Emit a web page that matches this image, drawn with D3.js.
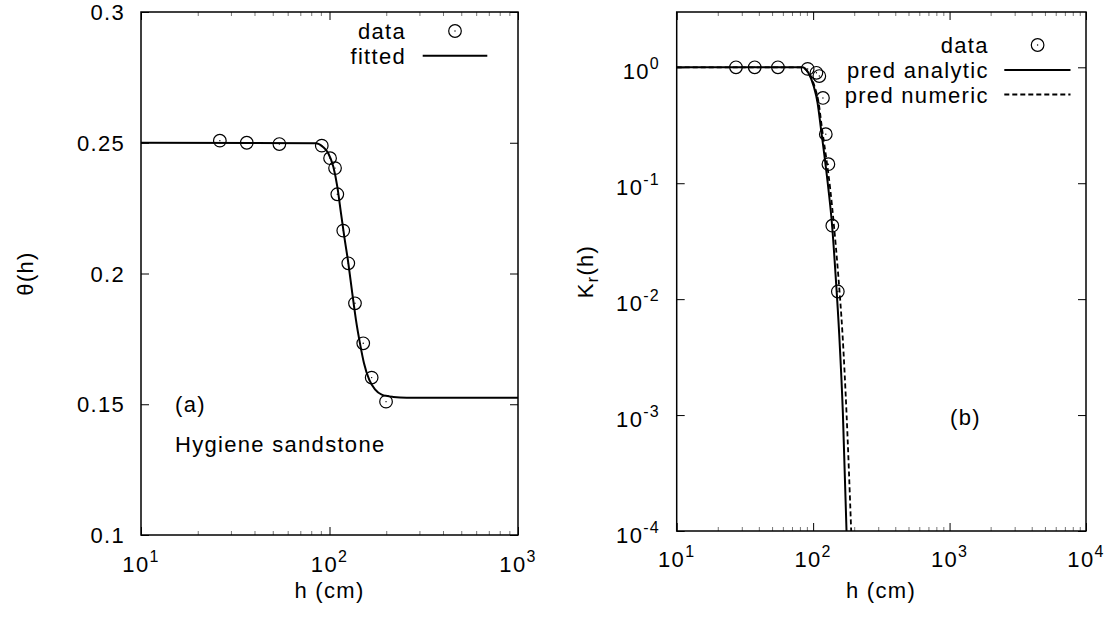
<!DOCTYPE html>
<html><head><meta charset="utf-8">
<script src="https://cdn.jsdelivr.net/npm/d3@7"></script>
<style>body{margin:0;background:#fff}</style>
</head><body><svg id="c" width="1109" height="617"></svg>
<script>
// ---------- Panel (a): water content ----------
const thetaH   = [26.2, 36.4, 54.2, 91.0, 100.7, 107, 110, 118.3, 125.8, 136.5, 151, 167.4, 199.5];
const thetaObs = [0.2508, 0.2500, 0.2495, 0.2489, 0.2441, 0.2403, 0.2303, 0.2164, 0.2039, 0.1886, 0.1733, 0.1602, 0.1510];
const fitH     = [10, 84.8, 92.0, 98.5, 104.8, 110.0, 115.1, 119.8, 125.9, 132.1, 138.2, 145.1, 152.4, 162.6, 174.3, 189.2, 218.0, 256.8, 1000];
const fitTheta = [0.25, 0.2498, 0.2485, 0.2460, 0.2408, 0.2332, 0.2230, 0.2141, 0.2039, 0.1924, 0.1822, 0.1733, 0.1657, 0.1593, 0.1557, 0.1537, 0.1528, 0.1525, 0.1525];
const aXTicks  = [10, 100, 1000];
const aXExp    = ["1", "2", "3"];
const aYTicks  = [0.1, 0.15, 0.2, 0.25, 0.3];
const aYLabels = ["0.1", "0.15", "0.2", "0.25", "0.3"];

// ---------- Panel (b): relative conductivity ----------
const krH   = [27.2, 37.3, 55.2, 91.2, 105.7, 111, 118, 123.8, 129.4, 138.2, 151.7];
const krObs = [1.0, 1.0, 1.0, 0.969, 0.897, 0.841, 0.544, 0.265, 0.146, 0.0430, 0.01164];
const anaH  = [10, 82.9, 92.2, 101.1, 107.6, 114.4, 121.5, 129.4, 137.5, 146.1, 155.3, 165.2, 175.7];
const anaK  = [1, 1, 0.897, 0.682, 0.499, 0.289, 0.167, 0.0895, 0.0443, 0.0161, 0.00498, 0.00104, 1e-4];
const numH  = [10, 82.9, 92.2, 102.5, 109.6, 116.5, 124.6, 133.4, 141.8, 152.8, 164.2, 175.7, 190.1];
const numK  = [1, 1, 0.897, 0.682, 0.499, 0.289, 0.167, 0.0895, 0.0443, 0.0161, 0.00498, 0.00104, 1e-4];
const bXTicks = [10, 100, 1000, 10000];
const bXExp   = ["1", "2", "3", "4"];
const bYTicks = [1e-4, 1e-3, 1e-2, 1e-1, 1];
const bYExp   = ["-4", "-3", "-2", "-1", "0"];

const FONT = "'Liberation Sans', Arial, Helvetica, sans-serif";
const FS = 22, LS = 1.3, SUP = 16;
const svg = d3.select("#c").style("font-family", FONT);
svg.append("rect").attr("width", 1109).attr("height", 617).attr("fill", "#fff");

function minorLog(lo, hi) {
  const out = [];
  for (let d = lo; d < hi; d *= 10) for (let k = 2; k <= 9; k++) out.push(d * k);
  return out;
}

function frameAxes(g, x, y, xMajor, xMinor, yMajor) {
  const [x0, x1] = x.range(), [y0, y1] = y.range();
  const mk = (axis, tx, ty, col) => {
    const a = g.append("g").attr("transform", `translate(${tx},${ty})`).call(axis);
    a.select(".domain").remove();
    a.selectAll("line").attr("stroke", col).attr("stroke-width", 1);
  };
  mk(d3.axisBottom(x).tickValues(xMajor).tickSize(-8).tickSizeOuter(0).tickFormat(""), 0, y0, "#000");
  mk(d3.axisTop(x).tickValues(xMajor).tickSize(-8).tickSizeOuter(0).tickFormat(""), 0, y1, "#000");
  mk(d3.axisBottom(x).tickValues(xMinor).tickSize(-4).tickSizeOuter(0).tickFormat(""), 0, y0, "#777");
  mk(d3.axisTop(x).tickValues(xMinor).tickSize(-4).tickSizeOuter(0).tickFormat(""), 0, y1, "#777");
  mk(d3.axisLeft(y).tickValues(yMajor).tickSize(-8).tickSizeOuter(0).tickFormat(""), x0, 0, "#000");
  mk(d3.axisRight(y).tickValues(yMajor).tickSize(-8).tickSizeOuter(0).tickFormat(""), x1, 0, "#000");
  g.append("rect").attr("x", x0).attr("y", y1).attr("width", x1 - x0).attr("height", y0 - y1)
    .attr("fill", "none").attr("stroke", "#000").attr("stroke-width", 1.5);
}

function powLabel(g, px, py, exp, anchor) {
  const t = g.append("text").attr("x", px).attr("y", py).attr("text-anchor", anchor)
    .attr("font-size", FS).attr("letter-spacing", LS);
  t.append("tspan").text("10");
  t.append("tspan").attr("font-size", SUP).attr("dy", -10).text(exp);
}

function marker(g, cx, cy) {
  g.append("circle").attr("cx", cx).attr("cy", cy).attr("r", 6.3)
    .attr("fill", "none").attr("stroke", "#000").attr("stroke-width", 1.2);
  g.append("circle").attr("cx", cx).attr("cy", cy).attr("r", 0.7).attr("fill", "#000");
}

function txt(g, px, py, s, anchor) {
  return g.append("text").attr("x", px).attr("y", py).attr("text-anchor", anchor || "start")
    .attr("font-size", FS).attr("letter-spacing", LS).attr("fill", "#000").text(s);
}

// ================= Panel (a) =================
const xA = d3.scaleLog().domain([10, 1000]).range([141, 518]);
const yA = d3.scaleLinear().domain([0.1, 0.3]).range([535, 12]);
const gA = svg.append("g");
gA.append("clipPath").attr("id", "clipA").append("rect")
  .attr("x", 141).attr("y", 12).attr("width", 377).attr("height", 523);

const lineA = d3.line().x(d => xA(d[0])).y(d => yA(d[1])).curve(d3.curveMonotoneX);
gA.append("path").attr("clip-path", "url(#clipA)")
  .datum(fitH.map((h, i) => [h, fitTheta[i]]))
  .attr("d", lineA).attr("fill", "none").attr("stroke", "#000").attr("stroke-width", 2);
thetaH.forEach((h, i) => marker(gA, xA(h), yA(thetaObs[i])));

frameAxes(gA, xA, yA, aXTicks, minorLog(10, 1000), aYTicks);
aYTicks.forEach((v, i) => txt(gA, 125, yA(v) + 8, aYLabels[i], "end"));
aXTicks.forEach((v, i) => powLabel(gA, xA(v), 572, aXExp[i], "middle"));
txt(gA, 329.5, 598, "h (cm)", "middle");
gA.append("text").attr("transform", "translate(33,273.5) rotate(-90)").attr("text-anchor", "middle")
  .attr("font-size", FS).attr("letter-spacing", LS).text("θ(h)");
txt(gA, 175, 411.5, "(a)");
txt(gA, 175, 452, "Hygiene sandstone");
// legend
txt(gA, 406, 39, "data", "end");
marker(gA, 455, 31);
txt(gA, 406, 63.5, "fitted", "end");
gA.append("line").attr("x1", 422.7).attr("x2", 487.3).attr("y1", 55.8).attr("y2", 55.8)
  .attr("stroke", "#000").attr("stroke-width", 2);

// ================= Panel (b) =================
const xB = d3.scaleLog().domain([10, 10000]).range([676.7, 1086]);
const yB = d3.scaleLog().domain([1e-4, 3]).range([531, 12]);
const gB = svg.append("g");
gB.append("clipPath").attr("id", "clipB").append("rect")
  .attr("x", 676.7).attr("y", 12).attr("width", 409.3).attr("height", 519);

const lineB = d3.line().x(d => xB(d[0])).y(d => yB(d[1])).curve(d3.curveMonotoneX);
gB.append("path").attr("clip-path", "url(#clipB)")
  .datum(numH.map((h, i) => [h, numK[i]]))
  .attr("d", lineB).attr("fill", "none").attr("stroke", "#000").attr("stroke-width", 1.8)
  .attr("stroke-dasharray", "5,3");
gB.append("path").attr("clip-path", "url(#clipB)")
  .datum(anaH.map((h, i) => [h, anaK[i]]))
  .attr("d", lineB).attr("fill", "none").attr("stroke", "#000").attr("stroke-width", 2);
krH.forEach((h, i) => marker(gB, xB(h), yB(krObs[i])));

frameAxes(gB, xB, yB, bXTicks, minorLog(10, 10000), bYTicks);
bYTicks.forEach((v, i) => powLabel(gB, 660, yB(v) + 11.5, bYExp[i], "end"));
bXTicks.forEach((v, i) => powLabel(gB, xB(v), 567, bXExp[i], "middle"));
txt(gB, 881, 598, "h (cm)", "middle");
const kl = gB.append("text").attr("transform", "translate(593,271.5) rotate(-90)").attr("text-anchor", "middle")
  .attr("font-size", FS).attr("letter-spacing", LS);
kl.append("tspan").text("K");
kl.append("tspan").attr("font-size", SUP).attr("dy", 5).text("r");
kl.append("tspan").attr("dy", -5).text("(h)");
txt(gB, 950, 424.5, "(b)");
// legend
txt(gB, 988.7, 53, "data", "end");
marker(gB, 1037.6, 45);
txt(gB, 988.7, 78, "pred analytic", "end");
gB.append("line").attr("x1", 1004.3).attr("x2", 1070.5).attr("y1", 70).attr("y2", 70)
  .attr("stroke", "#000").attr("stroke-width", 2);
txt(gB, 988.7, 102.5, "pred numeric", "end");
gB.append("line").attr("x1", 1004.3).attr("x2", 1070.5).attr("y1", 94.5).attr("y2", 94.5)
  .attr("stroke", "#000").attr("stroke-width", 1.8).attr("stroke-dasharray", "5,3");
</script></body></html>
